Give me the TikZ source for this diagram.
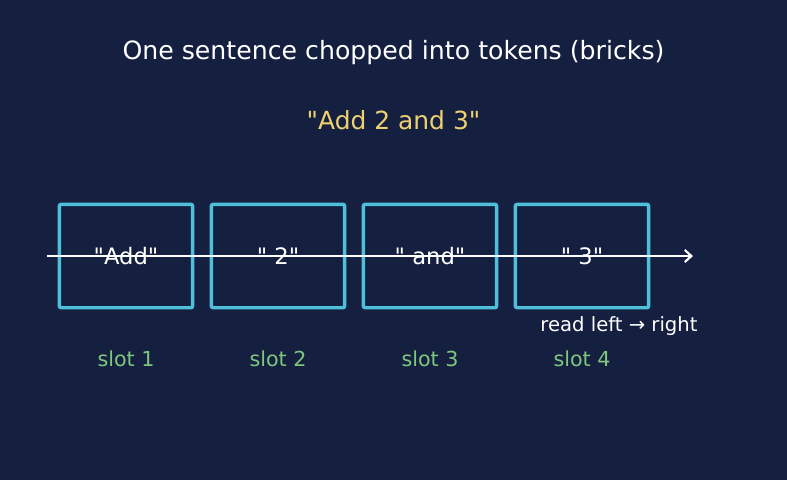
\documentclass[tikz,border=0pt]{standalone}
\usepackage{fontspec}
\setmainfont[Ligatures=NoCommon,Mapping=]{DejaVu Sans}
\usetikzlibrary{arrows.meta}
\definecolor{bgnavy}{HTML}{152040}
\definecolor{brickcyan}{HTML}{4FC0DA}
\definecolor{slotgreen}{HTML}{7FC77F}
\definecolor{quoteyellow}{HTML}{F0D170}
\newcommand{\dq}{\symbol{34}}
\tikzset{
  brick/.style={draw=brickcyan, line width=2.6pt, rounded corners=1.5pt,
    minimum width=100pt, minimum height=77.6pt, inner sep=0pt,
    text=white, font=\fontsize{17}{20}\selectfont},
  slotlabel/.style={text=slotgreen, font=\fontsize{15.5}{18}\selectfont},
}
\begin{document}
\begin{tikzpicture}[x=0.75pt,y=-0.75pt]
  \fill[bgnavy] (0,0) rectangle (787,480);
  \useasboundingbox (0,0) rectangle (787,480);
  \node[text=white, font=\fontsize{18.9}{22}\selectfont] (title) at (393.5,53) {One sentence chopped into tokens (bricks)};
  \node[text=quoteyellow, font=\fontsize{18.7}{22}\selectfont] (sentence) at (393.5,120) {\dq Add 2 and 3\dq};
  \foreach \tok/\lbl [count=\i] in {Add/Add,two/{ 2},and/{ and},three/{ 3}} {
    \node[brick] (\tok) at (126+152*\i-152,256) {\dq\lbl\dq};
    \node[slotlabel] (slot\i) at (126+152*\i-152,359) {slot \i};
  }
  \coordinate (arrowstart) at (47,256);
  \coordinate (arrowend) at (693,256);
  \draw[white, line width=1.6pt, -{Straight Barb[length=5pt,width=9pt]}] (arrowstart) -- (arrowend);
  \node[text=white, font=\fontsize{14.7}{17}\selectfont] (readdir) at (619,326) {read left → right};
\end{tikzpicture}
\end{document}
